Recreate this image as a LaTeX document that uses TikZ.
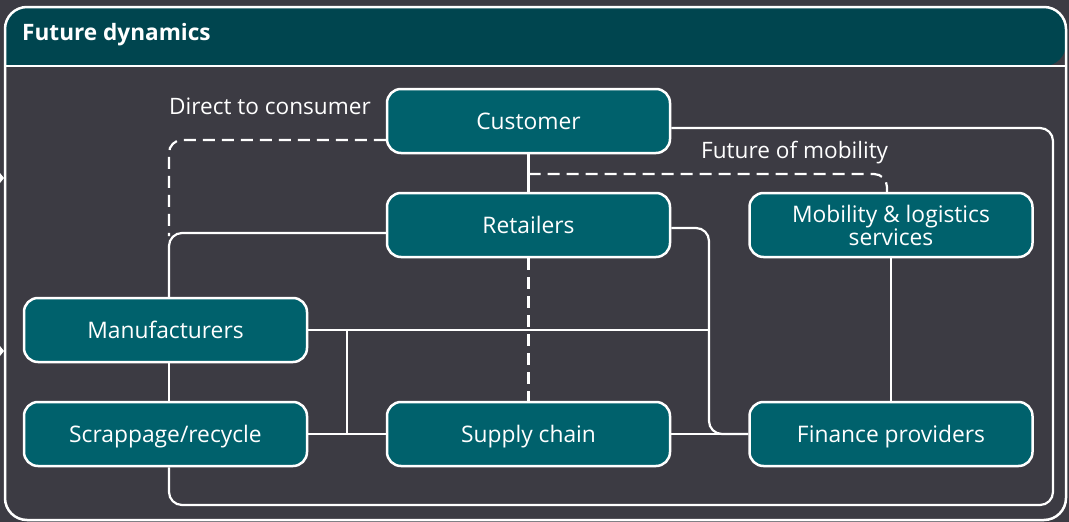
\documentclass[tikz,border=0pt]{standalone}
\usepackage{fontspec}
\setmainfont{Open Sans}
\usetikzlibrary{backgrounds}
\definecolor{bgc}{HTML}{3C3B43}
\definecolor{hdr}{HTML}{00454F}
\definecolor{boxc}{HTML}{00616C}
\begin{document}
\begin{tikzpicture}[x=1pt,y=-1pt,
  box/.style={draw=white,line width=2.5pt,fill=boxc,rounded corners=14pt,
    minimum width=283pt,minimum height=64pt,text=white,align=center,
    font=\fontsize{22.8}{23}\selectfont,inner sep=0pt},
  onebox/.style={box,text height=16.6pt,text depth=0pt},
  conn/.style={draw=white,line width=2.2pt,rounded corners=13pt},
  dconn/.style={conn,dash pattern=on 12pt off 7pt},
  lbl/.style={text=white,font=\fontsize{22.6}{24}\selectfont,inner sep=0pt,anchor=west}]
% nodes
\node[onebox] (cust) at (528.5,121) {Customer};
\node[onebox] (ret) at (528.5,225) {Retailers};
\node[box] (mob) at (891,225) {Mobility \& logistics\\services};
\node[onebox] (manu) at (165.5,330) {Manufacturers};
\node[onebox] (scrap) at (165.5,434) {Scrappage/recycle};
\node[onebox] (sup) at (528.5,434) {Supply chain};
\node[onebox] (fin) at (891,434) {Finance providers};
% labels
\node[lbl] (dtc) at (169,106) {Direct to consumer};
\node[lbl] (fom) at (701,153) {Future of mobility};
\node[text=white,font=\bfseries\fontsize{22.6}{24}\selectfont,anchor=west,inner sep=0pt] (title) at (22,35) {Future dynamics};
% coordinates
\coordinate (fomstart) at (528.5,174);
\coordinate (vjoin) at (347,330);
\coordinate (rjoin) at (709,330);
\begin{scope}[on background layer]
\fill[bgc] (0,0) rectangle (1069,522);
\fill[hdr,rounded corners=22pt] (5,66) -- (5,7) -- (1066,7) -- (1066,66) [sharp corners] -- cycle;
\draw[white,line width=2.5pt,rounded corners=22pt] (5,7) rectangle (1066,520);
\draw[white,line width=2.5pt] (5,66) -- (1066,66);
\fill[white] (0,173) -- (4,178) -- (0,183) -- cycle;
\fill[white] (0,346) -- (4,351) -- (0,356) -- cycle;
% connectors
\draw[conn] (cust.east |- 0,128) -- (1053,128) -- (1053,505) -- (169,505) -- (169,0 |- scrap.south);
\draw[conn] (cust) -- (ret);
\draw[dconn] (fomstart) -- (887,174) -- (mob.north -| 887,0);
\draw[dconn] (cust.west |- 0,140) -- (169,140) -- (169,236);
\draw[conn] (ret.west |- 0,233) -- (169,233) -- (169,0 |- manu.north);
\draw[conn] (ret.east |- 0,228) -- (709,228) -- (709,434) -- (fin.west);
\draw[conn] (sup.east) -- (fin.west);
\draw[conn] (manu.east |- 0,330) -- (rjoin);
\draw[conn] (vjoin) -- (347,434);
\draw[conn] (scrap.east) -- (sup.west);
\draw[conn] (169,0 |- manu.south) -- (169,0 |- scrap.north);
\draw[dconn] (ret.south) -- (sup.north);
\draw[conn] (mob.south) -- (fin.north);
\end{scope}
\useasboundingbox (0,0) rectangle (1069,522);
\end{tikzpicture}
\end{document}
